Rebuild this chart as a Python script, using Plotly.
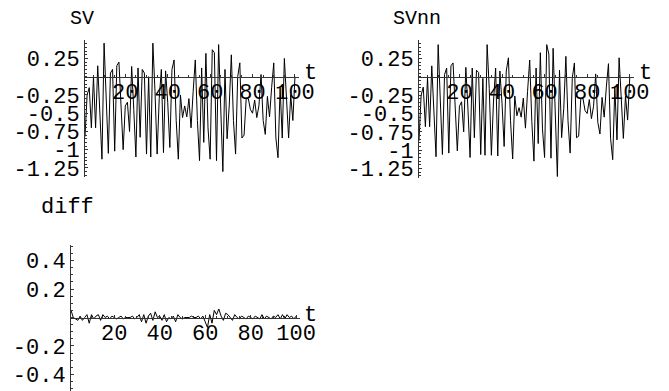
import plotly.graph_objects as go

t = list(range(1, 101))

SV = [-0.82, -0.25, -0.15, -0.70, 0.00, -0.70, 0.15, -0.40, -1.13, 0.46,
      -0.30, -1.05, 0.05, 0.10, -1.02, 0.15, 0.20, -0.50, -1.00, -0.40,
      -0.35, -0.75, 0.14, -0.45, -1.10, 0.12, -0.83, 0.10, 0.05, -1.06,
      0.00, -1.10, 0.46, -0.20, -1.06, -0.30, 0.10, -1.04, 0.08, -0.35,
      -0.97, 0.10, 0.23, -0.60, -1.13, -0.25, -0.56, -0.40, -0.55, -0.30,
      -0.70, -0.20, 0.23, -0.60, -1.15, 0.12, -0.90, 0.32, -0.70, -1.13,
      0.37, 0.33, -1.15, 0.44, -0.60, -1.30, 0.10, -0.85, -0.40, 0.30,
      -0.60, -1.06, 0.00, 0.19, -0.84, -0.80, -0.30, -0.30, -0.45, -0.50,
      -0.32, -0.56, -0.40, 0.03, -0.60, -0.79, -0.27, -0.55, -0.15, 0.19,
      -0.84, -1.11, -0.15, -0.84, 0.25, -0.25, -0.84, -0.25, -0.60, 0.00]

SVnn = [-0.87, -0.25, -0.14, -0.68, -0.01, -0.68, 0.15, -0.42, -1.09, 0.44,
        -0.29, -1.06, 0.03, 0.12, -1.04, 0.15, 0.19, -0.49, -1.01, -0.40,
        -0.34, -0.75, 0.13, -0.44, -1.10, 0.12, -0.83, 0.09, 0.06, -1.06,
        -0.02, -1.07, 0.44, -0.16, -1.07, -0.33, 0.12, -1.08, 0.08, -0.36,
        -0.95, 0.08, 0.26, -0.60, -1.12, -0.26, -0.53, -0.42, -0.55, -0.29,
        -0.70, -0.20, 0.23, -0.61, -1.15, 0.12, -0.91, 0.33, -0.71, -1.10,
        0.44, 0.31, -1.11, 0.39, -0.62, -1.36, 0.09, -0.83, -0.43, 0.28,
        -0.60, -1.04, -0.02, 0.19, -0.83, -0.81, -0.30, -0.29, -0.46, -0.50,
        -0.31, -0.57, -0.40, 0.04, -0.62, -0.78, -0.28, -0.55, -0.14, 0.18,
        -0.84, -1.13, -0.14, -0.86, 0.26, -0.27, -0.84, -0.26, -0.59, -0.01]

diff = [0.05, 0.00, -0.01, -0.02, 0.01, -0.02, 0.00, 0.02, -0.04, 0.02,
        -0.01, 0.01, 0.02, -0.02, 0.02, 0.00, 0.01, -0.01, 0.01, 0.00,
        -0.01, 0.00, 0.01, -0.01, 0.00, 0.00, 0.00, 0.01, -0.01, 0.00,
        0.02, -0.03, 0.02, -0.04, 0.01, 0.03, -0.02, 0.04, 0.00, 0.01,
        -0.02, 0.02, -0.03, 0.00, -0.01, 0.01, -0.03, 0.02, 0.00, -0.01,
        0.00, 0.00, 0.00, 0.01, 0.00, 0.00, 0.01, -0.01, 0.01, -0.03,
        -0.07, 0.02, -0.04, 0.05, 0.02, 0.06, 0.01, -0.02, 0.03, 0.02,
        0.00, -0.02, 0.02, 0.00, -0.01, 0.01, 0.00, -0.01, 0.01, 0.00,
        -0.01, 0.01, 0.00, -0.01, 0.02, -0.01, 0.01, 0.00, -0.01, 0.01,
        0.00, 0.02, -0.01, 0.02, -0.01, 0.02, 0.00, 0.01, -0.01, 0.01]

x_ticks = [20, 40, 60, 80, 100]
x_ticktext = ["20", "40", "60", "80", "100"]
sv_ticks = [0.25, -0.25, -0.5, -0.75, -1, -1.25]
sv_ticktext = ["0.25", "-0.25", "-0.5", "-0.75", "-1", "-1.25"]
diff_ticks = [0.4, 0.2, -0.2, -0.4]
diff_ticktext = ["0.4", "0.2", "-0.2", "-0.4"]

# the page has an 8px body margin: size the figure to fill the rest of the window
OFF = 8
W, H = 669 - OFF, 391 - OFF
FONT = "'Liberation Mono', 'Courier New', Courier, 'DejaVu Sans Mono', monospace"
FS = 22


def px(x):
    return (x - OFF) / W


def py(y):
    return 1 - (y - OFF) / H


fig = go.Figure()
fig.add_trace(go.Scatter(x=t, y=SV, mode="lines", line=dict(color="black", width=1),
                         xaxis="x", yaxis="y", showlegend=False))
fig.add_trace(go.Scatter(x=t, y=SVnn, mode="lines", line=dict(color="black", width=1),
                         xaxis="x2", yaxis="y2", showlegend=False))
fig.add_trace(go.Scatter(x=t, y=diff, mode="lines", line=dict(color="black", width=1),
                         xaxis="x3", yaxis="y3", showlegend=False))

tf = dict(family=FONT, size=FS, color="black")


def xax(d0, d1, r, pos):
    return dict(domain=[px(d0), px(d1)], range=r, anchor="free", position=py(pos),
                showline=True, linecolor="#333", linewidth=1, showgrid=False, zeroline=False,
                ticks="inside", ticklen=3, tickcolor="#333", tickvals=x_ticks, ticktext=x_ticktext,
                minor=dict(dtick=5, ticks="inside", ticklen=2, tickcolor="#333"),
                tickfont=tf, layer="above traces", ticklabelstandoff=-5, automargin=False)


def yax(d_top, d_bot, r, pos, tv, tt, mdt):
    return dict(domain=[py(d_bot), py(d_top)], range=r, anchor="free", position=px(pos),
                showline=True, linecolor="#333", linewidth=1, showgrid=False, zeroline=False,
                ticks="inside", ticklen=3, tickcolor="#333", tickvals=tv, ticktext=tt,
                minor=dict(dtick=mdt, ticks="inside", ticklen=2, tickcolor="#333"),
                tickfont=tf, layer="above traces", ticklabelstandoff=0, automargin=False)


fig.update_layout(
    template="none",
    width=W, height=H, margin=dict(l=0, r=0, t=0, b=0, pad=0, autoexpand=False),
    paper_bgcolor="white", plot_bgcolor="white",
    xaxis=xax(84, 299, [0.53, 101.9], 76.7),
    yaxis=yax(40, 177, [-1.374, 0.503], 84, sv_ticks, sv_ticktext, 0.05),
    xaxis2=xax(418, 634, [0.53, 102.0], 76.7),
    yaxis2=yax(40, 178, [-1.38, 0.503], 418, sv_ticks, sv_ticktext, 0.05),
    xaxis3=xax(70, 300, [0.55, 101.7], 317.5),
    yaxis3=yax(245, 391, [-0.516, 0.509], 70, diff_ticks, diff_ticktext, 0.05),
)

annots = [("SV", 82, 18.5, 20), ("SVnn", 417, 18.5, 20), ("diff", 67, 207, 22),
          ("t", 310, 74, 22), ("t", 645, 74, 22), ("t", 310, 315, 22)]
for txt, ax_, ay_, fs in annots:
    fig.add_annotation(text=txt, x=px(ax_), y=py(ay_), xref="paper", yref="paper",
                       showarrow=False, xanchor="center", yanchor="middle",
                       font=dict(family=FONT, size=fs, color="black"))

fig.write_html("out.html")
